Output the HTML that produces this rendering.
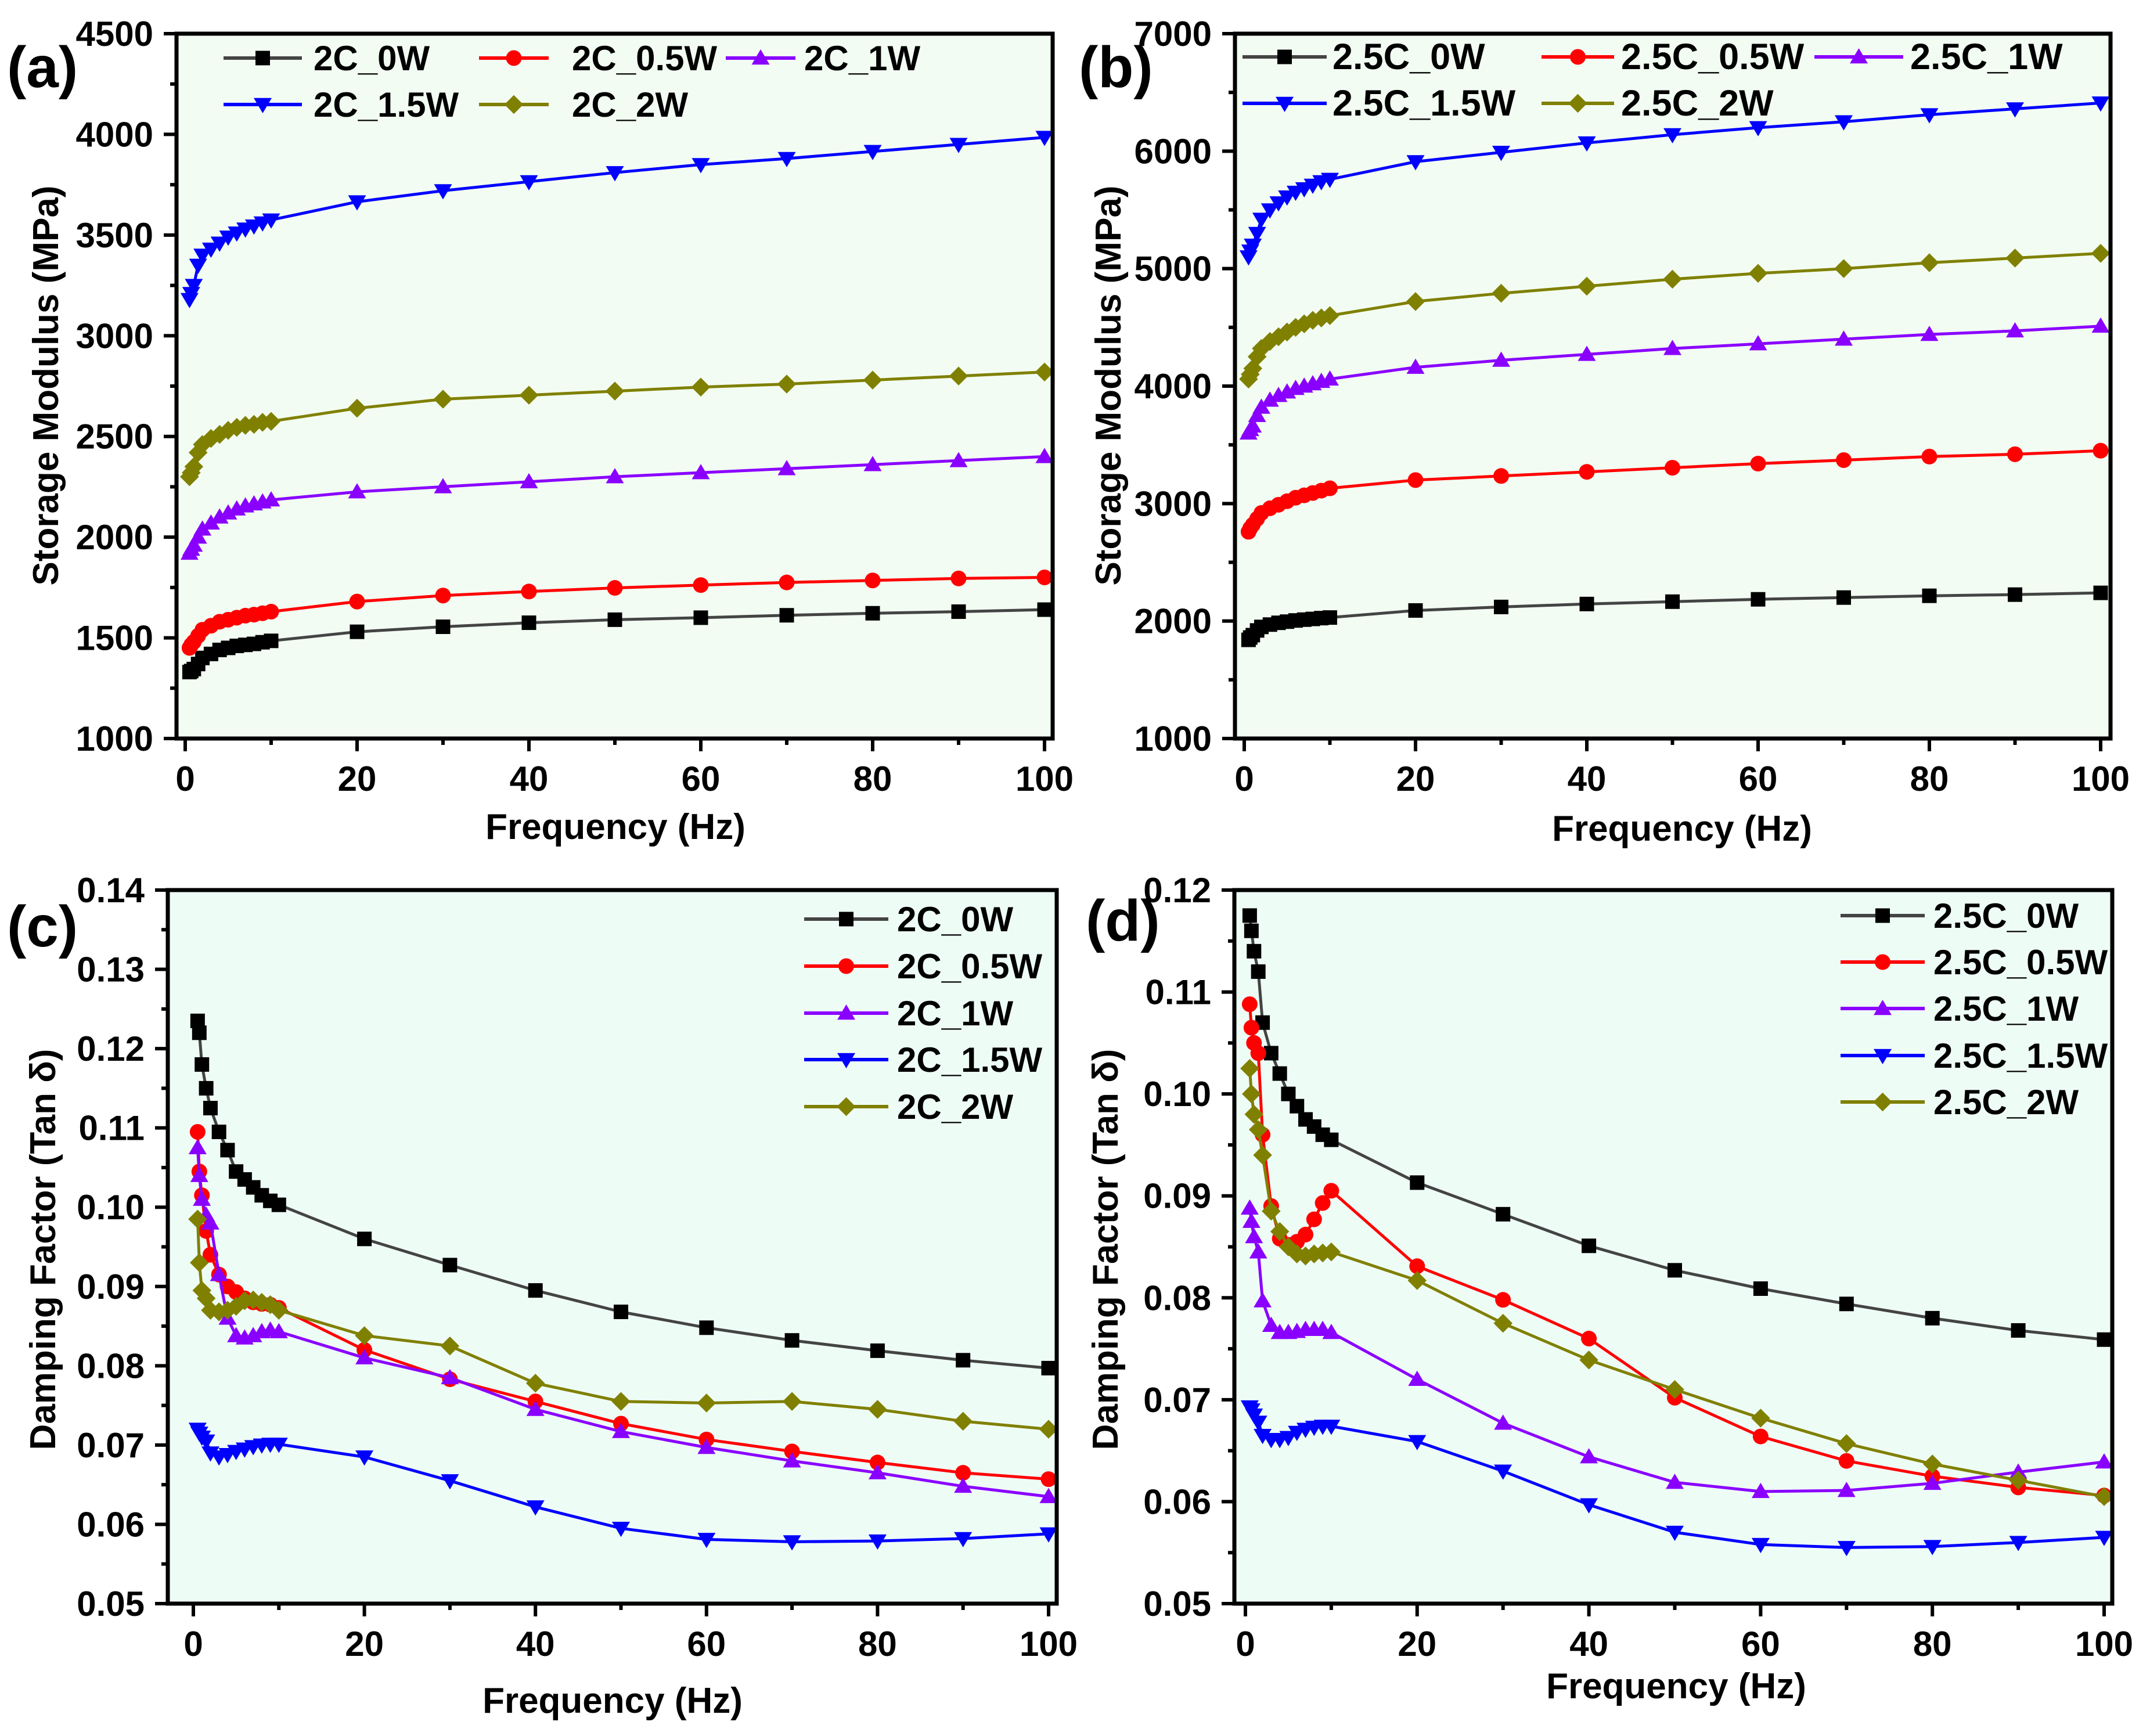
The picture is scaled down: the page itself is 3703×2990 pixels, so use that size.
<!DOCTYPE html>
<html><head><meta charset="utf-8"><style>
html,body{margin:0;padding:0;background:#fff;}
svg{display:block;font-family:"Liberation Sans",Arial,sans-serif;font-weight:bold;}
</style></head><body>
<svg id="fig" width="3703" height="2990" viewBox="0 0 3703 2990" xmlns="http://www.w3.org/2000/svg"></svg>
<script>
const freq = [0.5,0.7,1,1.5,2,3,4,5,6,7,8,9,10,20,30,40,50,60,70,80,90,100];
const xTicks = [0,20,40,60,80,100];
const seriesKeys = ['0W','0.5W','1W','1.5W','2W'];
// panel a
const a_0W  = [1330,1335,1345,1370,1400,1420,1440,1450,1460,1465,1470,1478,1485,1530,1555,1575,1590,1600,1612,1622,1630,1640];
const a_05W = [1450,1465,1480,1510,1540,1560,1580,1590,1600,1610,1615,1622,1630,1680,1710,1730,1748,1762,1775,1785,1795,1800];
const a_1W  = [1920,1940,1960,2000,2040,2070,2100,2120,2140,2155,2165,2175,2185,2225,2250,2275,2300,2320,2340,2360,2380,2400];
const a_15W = [3180,3210,3250,3350,3400,3430,3460,3490,3510,3530,3545,3560,3575,3665,3720,3765,3810,3850,3880,3915,3950,3985];
const a_2W  = [2300,2320,2350,2420,2460,2490,2510,2530,2545,2555,2560,2570,2575,2640,2685,2705,2725,2745,2760,2780,2800,2820];
const a_yTicks = [1000,1500,2000,2500,3000,3500,4000,4500];
// panel b
const b_0W  = [1840,1860,1880,1920,1950,1970,1985,1995,2005,2012,2018,2025,2030,2090,2120,2145,2165,2185,2200,2215,2225,2240];
const b_05W = [2760,2790,2820,2870,2920,2960,2990,3020,3050,3070,3090,3110,3130,3200,3235,3270,3305,3340,3370,3400,3420,3450];
const b_1W  = [3600,3630,3660,3750,3820,3880,3920,3950,3980,4000,4020,4040,4060,4160,4220,4270,4320,4360,4400,4440,4470,4510];
const b_15W = [5100,5150,5200,5300,5420,5500,5560,5610,5650,5680,5710,5740,5760,5910,5990,6070,6140,6200,6250,6310,6360,6410];
const b_2W  = [4060,4100,4150,4250,4320,4380,4420,4460,4500,4530,4560,4580,4600,4720,4790,4850,4910,4960,5000,5050,5090,5130];
const b_yTicks = [1000,2000,3000,4000,5000,6000,7000];
// panel c
const c_0W  = [0.1235,0.122,0.118,0.115,0.1125,0.1095,0.1072,0.1045,0.1035,0.1025,0.1015,0.1008,0.1003,0.096,0.0927,0.0895,0.0868,0.0848,0.0832,0.0819,0.0807,0.0797];
const c_05W = [0.1095,0.1045,0.1015,0.097,0.094,0.0915,0.090,0.0893,0.0885,0.088,0.0878,0.0877,0.0873,0.082,0.0783,0.0755,0.0727,0.0707,0.0692,0.0678,0.0665,0.0657];
const c_1W  = [0.1075,0.104,0.101,0.099,0.098,0.0915,0.086,0.0838,0.0835,0.0838,0.0843,0.0845,0.0843,0.081,0.0785,0.0745,0.0717,0.0697,0.068,0.0665,0.0648,0.0635];
const c_15W = [0.072,0.0715,0.071,0.0705,0.069,0.0685,0.0688,0.0692,0.0695,0.0698,0.0700,0.0701,0.0701,0.0685,0.0655,0.0622,0.0595,0.0581,0.0578,0.0579,0.0582,0.0588];
const c_2W  = [0.0985,0.093,0.0895,0.0885,0.087,0.0868,0.0870,0.0875,0.0882,0.0883,0.0880,0.0877,0.0870,0.0838,0.0825,0.0778,0.0755,0.0753,0.0755,0.0745,0.0730,0.0720];
const c_yTicks = [0.05,0.06,0.07,0.08,0.09,0.10,0.11,0.12,0.13,0.14];
// panel d
const d_0W  = [0.1175,0.116,0.114,0.112,0.107,0.104,0.102,0.100,0.0988,0.0975,0.0968,0.096,0.0955,0.0913,0.0882,0.0851,0.0827,0.0809,0.0794,0.078,0.0768,0.0759];
const d_05W = [0.1088,0.1065,0.105,0.104,0.096,0.089,0.0858,0.0852,0.0855,0.0862,0.0877,0.0893,0.0905,0.0831,0.0798,0.0760,0.0702,0.0664,0.0640,0.0625,0.0614,0.0606];
const d_1W  = [0.0888,0.0875,0.086,0.0845,0.0797,0.0773,0.0766,0.0766,0.0767,0.0769,0.0769,0.0769,0.0766,0.0720,0.0677,0.0644,0.0619,0.0610,0.0611,0.0618,0.0629,0.0639];
const d_15W = [0.0693,0.069,0.0685,0.0678,0.0665,0.0661,0.0661,0.0663,0.0668,0.0671,0.0673,0.0674,0.0674,0.0659,0.0630,0.0597,0.0570,0.0558,0.0555,0.0556,0.0560,0.0565];
const d_2W  = [0.1025,0.100,0.098,0.0965,0.094,0.0885,0.0865,0.085,0.0843,0.0841,0.0843,0.0844,0.0845,0.0817,0.0775,0.0739,0.0710,0.0682,0.0657,0.0637,0.0621,0.0605];
const d_yTicks = [0.05,0.06,0.07,0.08,0.09,0.10,0.11,0.12];

const colors = ['#000000','#ff0000','#8a00ff','#0000ff','#808000'];
const lineColors = ['#444444','#ff0000','#8a00ff','#0000ff','#808000'];
const markers = ['square','circle','up','down','diamond'];

const NS='http://www.w3.org/2000/svg';
const svg=document.getElementById('fig');
function mk(tag,attrs,parent){const e=document.createElementNS(NS,tag);for(const k in attrs)e.setAttribute(k,attrs[k]);(parent||svg).appendChild(e);return e;}

function marker(g,type,x,y,col,s){
  let e;
  if(type==='square'){e=mk('rect',{x:x-s/2,y:y-s/2,width:s,height:s,fill:col},g);}
  else if(type==='circle'){e=mk('circle',{cx:x,cy:y,r:s/2+1,fill:col},g);}
  else if(type==='up'){e=mk('polygon',{points:`${x},${y-s*0.6} ${x-s*0.62},${y+s*0.45} ${x+s*0.62},${y+s*0.45}`,fill:col},g);}
  else if(type==='down'){e=mk('polygon',{points:`${x},${y+s*0.6} ${x-s*0.62},${y-s*0.45} ${x+s*0.62},${y-s*0.45}`,fill:col},g);}
  else {e=mk('polygon',{points:`${x},${y-s*0.65} ${x+s*0.65},${y} ${x},${y+s*0.65} ${x-s*0.65},${y}`,fill:col},g);}
  return e;
}

function panel(p){
  const g=mk('g',{});
  
  
  const sx=v=>p.x0+(v-0)/(100-0)*(p.x100-p.x0);
  const sy=v=>p.bottom-(v-p.ymin)/(p.ymax-p.ymin)*(p.bottom-p.top);
  const bg=mk('rect',{x:p.left,y:p.top,width:p.right-p.left,height:p.bottom-p.top,fill:p.bg},g);
  
  
  const sdata=p.series;
  sdata.forEach((vals,i)=>{
    const sg=mk('g',{},g);
    
    
    const pts=freq.map((f,j)=>sx(f).toFixed(1)+','+sy(vals[j]).toFixed(1)).join(' ');
    mk('polyline',{points:pts,fill:'none',stroke:lineColors[i],'stroke-width':5,'stroke-linejoin':'round'},sg);
    freq.forEach((f,j)=>{const m=marker(sg,markers[i],sx(f),sy(vals[j]),colors[i],25);
      
      });
  });
  mk('rect',{x:p.left,y:p.top,width:p.right-p.left,height:p.bottom-p.top,fill:'none',stroke:'#000','stroke-width':7},g);
  for(let v=0;v<=100;v+=10){
    const major=v%20===0;
    mk('line',{x1:sx(v),x2:sx(v),y1:p.bottom,y2:p.bottom+(major?22:11),stroke:'#000','stroke-width':6},g);
  }
  xTicks.forEach(v=>{const t=mk('text',{x:sx(v),y:p.bottom+90,'text-anchor':'middle','font-size':60},g);t.textContent=v;
    });
  const yt=p.yTicks;
  for(let k=0;k<yt.length;k++){
    const v=yt[k];
    mk('line',{x1:p.left-22,x2:p.left,y1:sy(v),y2:sy(v),stroke:'#000','stroke-width':6},g);
    if(k<yt.length-1){const m=(v+yt[k+1])/2;mk('line',{x1:p.left-11,x2:p.left,y1:sy(m),y2:sy(m),stroke:'#000','stroke-width':6},g);}
    const t=mk('text',{x:p.left-40,y:sy(v)+21,'text-anchor':'end','font-size':60},g);
    t.textContent=p.fmt(v);
    
  }
  const xt=mk('text',{x:p.xtX,y:p.xtY,'text-anchor':'middle','font-size':62},g);
  xt.textContent='Frequency (Hz)';
  
  const ytt=mk('text',{x:0,y:0,'text-anchor':'middle','font-size':62,transform:`translate(${p.ytX},${p.ytY}) rotate(-90)`},g);
  ytt.textContent=p.ytitle;
  
  const pl=mk('text',{x:p.plX,y:p.plY,'font-size':100},g);
  pl.textContent='('+p.id+')';
  
  p.legend.forEach((L,i)=>{
    const lg=mk('g',{},g);
    
    
    mk('line',{x1:L[0],x2:L[1],y1:L[3],y2:L[3],stroke:lineColors[i],'stroke-width':6},lg);
    marker(lg,markers[i],(L[0]+L[1])/2,L[3],colors[i],25);
    const t=mk('text',{x:L[2],y:L[3]+21,'font-size':L[4]||60},lg);
    t.textContent=p.prefix+seriesKeys[i];
  });
}

const f0=v=>String(v);
const f2=v=>v.toFixed(2);
panel({id:'a',prefix:'2C_',left:304,right:1813,top:58,bottom:1272,x0:319,x100:1799,ymin:1000,ymax:4500,bg:'#f2fcf2',
  series:[a_0W,a_05W,a_1W,a_15W,a_2W],yTicks:a_yTicks,fmt:f0,ytitle:'Storage Modulus (MPa)',ytX:100,ytY:664,xtX:1060,xtY:1445,plX:12,plY:150,
  legend:[[385,520,540,100],[825,945,985,100],[1250,1370,1385,100],[385,520,540,180],[825,945,985,180]]});
panel({id:'b',prefix:'2.5C_',left:2127,right:3635,top:58,bottom:1272,x0:2143,x100:3618,ymin:1000,ymax:7000,bg:'#f2fcf2',
  series:[b_0W,b_05W,b_1W,b_15W,b_2W],yTicks:b_yTicks,fmt:f0,ytitle:'Storage Modulus (MPa)',ytX:1930,ytY:664,xtX:2897,xtY:1448,plX:1858,plY:150,
  legend:[[2140,2285,2295,98,63],[2655,2780,2792,98,63],[3125,3278,3290,98,63],[2140,2285,2295,178,63],[2655,2780,2792,178,63]]});
panel({id:'c',prefix:'2C_',left:289,right:1820,top:1533,bottom:2762,x0:333,x100:1806,ymin:0.05,ymax:0.14,bg:'#eefcf6',
  series:[c_0W,c_05W,c_1W,c_15W,c_2W],yTicks:c_yTicks,fmt:f2,ytitle:'Damping Factor (Tan δ)',ytX:95,ytY:2152,xtX:1055,xtY:2950,plX:12,plY:1630,
  legend:[[1385,1530,1545,1583],[1385,1530,1545,1664],[1385,1530,1545,1745],[1385,1530,1545,1825],[1385,1530,1545,1906]]});
panel({id:'d',prefix:'2.5C_',left:2126,right:3638,top:1533,bottom:2762,x0:2145,x100:3624,ymin:0.05,ymax:0.12,bg:'#eefcf6',
  series:[d_0W,d_05W,d_1W,d_15W,d_2W],yTicks:d_yTicks,fmt:f2,ytitle:'Damping Factor (Tan δ)',ytX:1925,ytY:2152,xtX:2887,xtY:2925,plX:1870,plY:1620,
  legend:[[3170,3315,3330,1577],[3170,3315,3330,1657],[3170,3315,3330,1737],[3170,3315,3330,1818],[3170,3315,3330,1898]]});
</script>
</body></html>
